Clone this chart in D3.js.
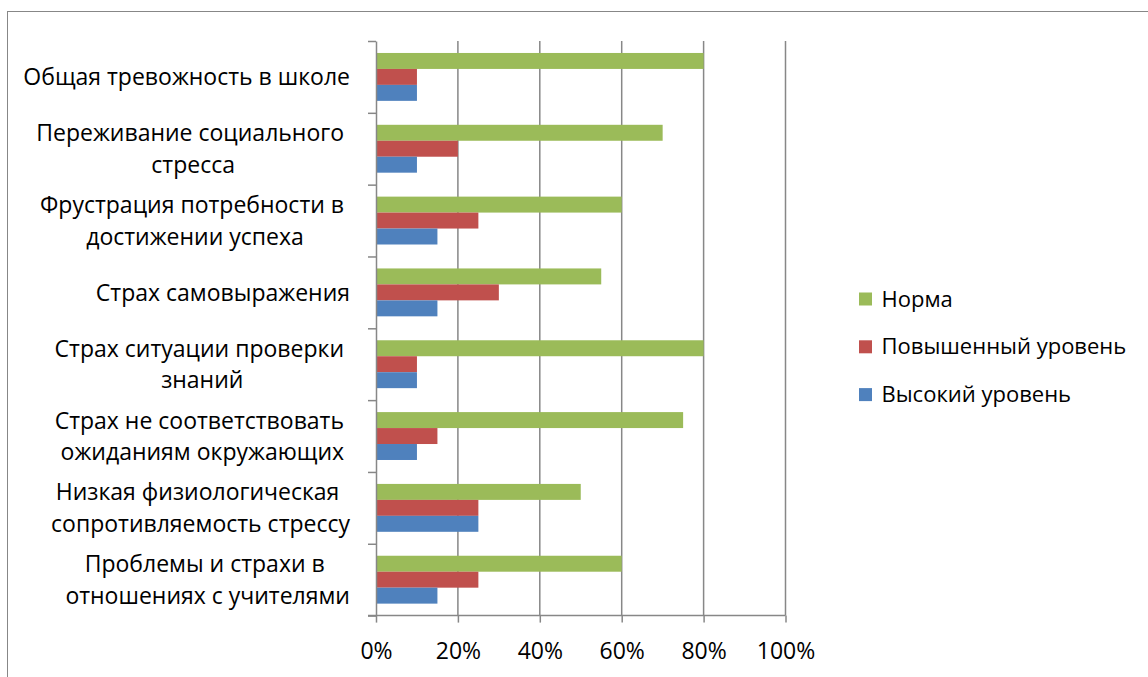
<!DOCTYPE html>
<html>
<head>
<meta charset="utf-8">
<script src="https://cdn.jsdelivr.net/npm/d3@7"></script>
<style>
  body { margin: 0; background: #fff; }
  svg text { font-family: "Open Sans", "Noto Sans", sans-serif; fill: #000; }
</style>
</head>
<body>
<svg id="chart" width="1148" height="677"></svg>
<script>
// Category labels, already broken into lines as they are displayed
const categories = [
  ["Общая тревожность в школе"],
  ["Переживание социального", "стресса"],
  ["Фрустрация потребности в", "достижении успеха"],
  ["Страх самовыражения"],
  ["Страх ситуации проверки", "знаний"],
  ["Страх не соответствовать", "ожиданиям окружающих"],
  ["Низкая физиологическая", "сопротивляемость стрессу"],
  ["Проблемы и страхи в", "отношениях с учителями"]
];

// Shares of pupils per level (fractions of 1)
const norma    = [0.80, 0.70, 0.60, 0.55, 0.80, 0.75, 0.50, 0.60];
const elevated = [0.10, 0.20, 0.25, 0.30, 0.10, 0.15, 0.25, 0.25];
const high     = [0.10, 0.10, 0.15, 0.15, 0.10, 0.10, 0.25, 0.15];

const seriesNames  = ["Норма", "Повышенный уровень", "Высокий уровень"];
const seriesValues = [norma, elevated, high];
const seriesColors = ["#9BBB59", "#C0504D", "#4F81BD"];

const xTicks = [0, 0.2, 0.4, 0.6, 0.8, 1.0];

const svg = d3.select("#chart");
const gridColor = "#878787";

// Outer chart frame
svg.append("rect")
  .attr("x", 7.5).attr("y", 11.5)
  .attr("width", 1160).attr("height", 700)
  .attr("fill", "none").attr("stroke", gridColor).attr("stroke-width", 1);

const plot = { left: 376, right: 785.5, top: 41, bottom: 615.6 };

const x = d3.scaleLinear().domain([0, 1]).range([plot.left, plot.right]);
const y = d3.scaleBand()
  .domain(d3.range(categories.length))
  .range([plot.top, plot.bottom])
  .padding(0);
const ySub = d3.scaleBand()
  .domain(d3.range(seriesNames.length))
  .range([0, y.bandwidth()])
  .paddingInner(0)
  .paddingOuter(0.75);

// Vertical gridlines
svg.append("g")
  .selectAll("line")
  .data(xTicks.slice(1))
  .join("line")
  .attr("x1", d => x(d)).attr("x2", d => x(d))
  .attr("y1", plot.top).attr("y2", plot.bottom)
  .attr("stroke", gridColor).attr("stroke-width", 1.5);

// Bars
const groups = svg.append("g")
  .selectAll("g")
  .data(categories.map((c, i) => i))
  .join("g")
  .attr("transform", i => `translate(0,${y(i)})`);

groups.selectAll("rect")
  .data(i => seriesValues.map((vals, s) => ({ s, v: vals[i] })))
  .join("rect")
  .attr("x", x(0))
  .attr("y", d => ySub(d.s))
  .attr("width", d => x(d.v) - x(0))
  .attr("height", ySub.bandwidth())
  .attr("fill", d => seriesColors[d.s]);

// Category axis with tick marks at band edges
const edge = d3.scaleLinear().domain([0, categories.length]).range([plot.top, plot.bottom]);
const yAxis = svg.append("g")
  .attr("transform", `translate(${plot.left},0)`)
  .call(d3.axisLeft(edge).tickValues(d3.range(categories.length + 1)).tickFormat("").tickSize(8).tickSizeOuter(0));
yAxis.selectAll("line, path").attr("stroke", gridColor).attr("stroke-width", 1.5);

// Value axis
const xAxis = svg.append("g")
  .attr("transform", `translate(0,${plot.bottom})`)
  .call(d3.axisBottom(x).tickValues(xTicks).tickFormat(d3.format(".0%")).tickSize(7).tickSizeOuter(0));
xAxis.selectAll("line, path").attr("stroke", gridColor).attr("stroke-width", 1.5);
xAxis.select(".domain").attr("d", `M${plot.left - 8},0H${plot.right}`);
xAxis.selectAll("text")
  .attr("y", 0).attr("dy", 0)
  .attr("transform", "translate(0,43)")
  .style("font-family", '"Open Sans", sans-serif')
  .style("font-size", "23px")
  .attr("fill", "#000");

// Category labels: each block right-aligned, lines centred within it
const labelSize = 23, lineGap = 31.5, labelRight = 350;
const measure = svg.append("text").attr("font-size", labelSize).attr("opacity", 0);
const textWidth = s => { measure.text(s); return measure.node().getComputedTextLength(); };
const spaceW = textWidth("a a") - textWidth("aa");

const labels = svg.append("g");
categories.forEach((lines, i) => {
  const widths = lines.map((l, k) => textWidth(l) + (k < lines.length - 1 ? spaceW : 0));
  const maxW = d3.max(widths);
  const cx = labelRight - maxW / 2;
  const cy = y(i) + y.bandwidth() / 2;
  lines.forEach((l, k) => {
    const off = (k - (lines.length - 1) / 2) * lineGap;
    labels.append("text")
      .attr("x", cx + (k < lines.length - 1 ? -spaceW / 2 : 0))
      .attr("y", cy + off + labelSize * 0.36)
      .attr("text-anchor", "middle")
      .attr("font-size", labelSize)
      .text(l);
  });
});
measure.remove();

// Legend
const legend = svg.append("g");
const legendRows = legend.selectAll("g")
  .data(seriesNames)
  .join("g")
  .attr("transform", (d, i) => `translate(859,${299 + i * 47.8})`);
legendRows.append("rect")
  .attr("x", 0).attr("y", -6.5)
  .attr("width", 13).attr("height", 13)
  .attr("fill", (d, i) => seriesColors[i]);
legendRows.append("text")
  .attr("x", 22.5).attr("y", 7.5)
  .attr("font-size", 22)
  .text(d => d);
</script>
</body>
</html>
